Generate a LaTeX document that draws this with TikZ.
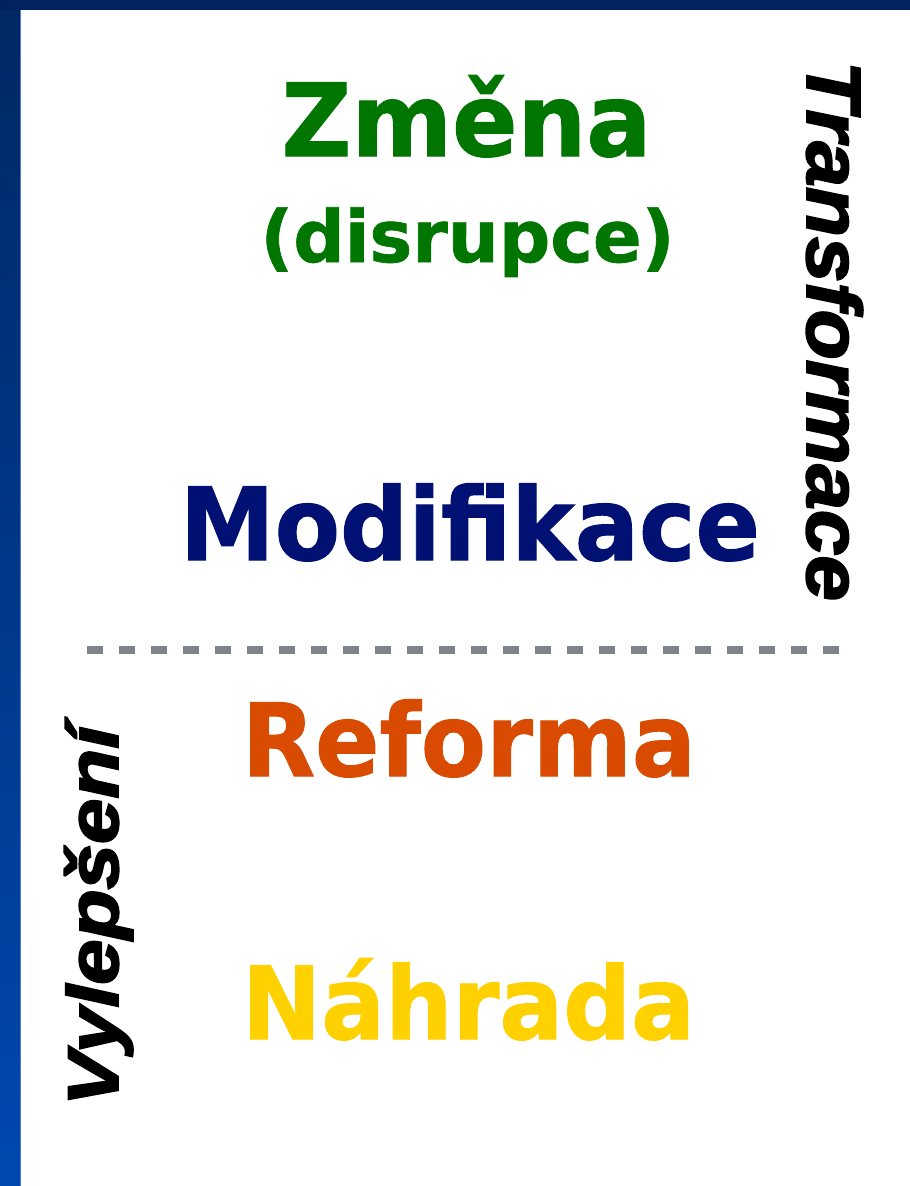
\documentclass[tikz,border=0pt]{standalone}
\usepackage{fontspec}
\usepackage{graphicx}
\setmainfont{DejaVu Sans}[BoldFeatures={FakeBold=1}]
\newfontfamily\rotfont{Liberation Sans}[BoldItalicFeatures={FakeBold=2.5}]
\definecolor{zgreen}{RGB}{0,118,0}
\definecolor{znavy}{RGB}{0,17,115}
\definecolor{zorange}{RGB}{216,75,0}
\definecolor{zyellow}{RGB}{255,209,0}
\definecolor{zgray}{RGB}{128,131,137}
\definecolor{stripTop}{RGB}{0,40,100}
\definecolor{stripBot}{RGB}{0,72,176}
\definecolor{topbar}{RGB}{0,35,95}
\definecolor{stripEdge}{RGB}{80,125,195}
\newcommand\fitw[2]{\resizebox{#1pt}{\height}{#2}}
\tikzset{
  word/.style={anchor=base, inner sep=0pt},
  big/.style={font=\fontsize{101}{101}\selectfont\bfseries},
  side/.style={anchor=base, inner sep=0pt, text=black}
}
\begin{document}
\begin{tikzpicture}[x=1pt,y=-1pt]
\useasboundingbox (0,0) rectangle (910,1186);
\fill[white] (0,0) rectangle (910,1186);
\shade[top color=stripTop, bottom color=stripBot] (0,0) rectangle (20,1186);
\draw[stripEdge, line width=1pt] (20.5,10) -- (20.5,1186);
\fill[topbar] (0,0) rectangle (910,10);
% dashed separator
\coordinate (dl) at (87,650);
\coordinate (dr) at (839,650);
\draw[zgray, line width=8pt, dash pattern=on 16pt off 16pt] (dl) -- (dr);
% words
\node[word, big, text=zgreen] (zmena) at (466.5,156) {\fitw{370}{Změna}};
\node[word, text=zgreen] (disr) at (467.5,262) {\fitw{414}{\fontsize{72}{72}\selectfont\bfseries (disrupce)}};
\node[word, big, text=znavy] (modif) at (470,560) {\fitw{580}{Modifikace}};
\node[word, big, text=zorange] (reforma) at (469,776) {\fitw{454}{Reforma}};
\node[word, big, text=zyellow] (nahrada) at (468.5,1039) {\fitw{453}{Náhrada}};
% side labels
\node[side, rotate=-90] (transf) at (807,331) {\fitw{540}{\rotfont\fontsize{77}{77}\selectfont\bfseries\itshape Transformace}};
\node[side, rotate=90] (vylep) at (118,916) {\fitw{380}{\rotfont\fontsize{72}{72}\selectfont\bfseries\itshape Vylepšení}};
\end{tikzpicture}
\end{document}
